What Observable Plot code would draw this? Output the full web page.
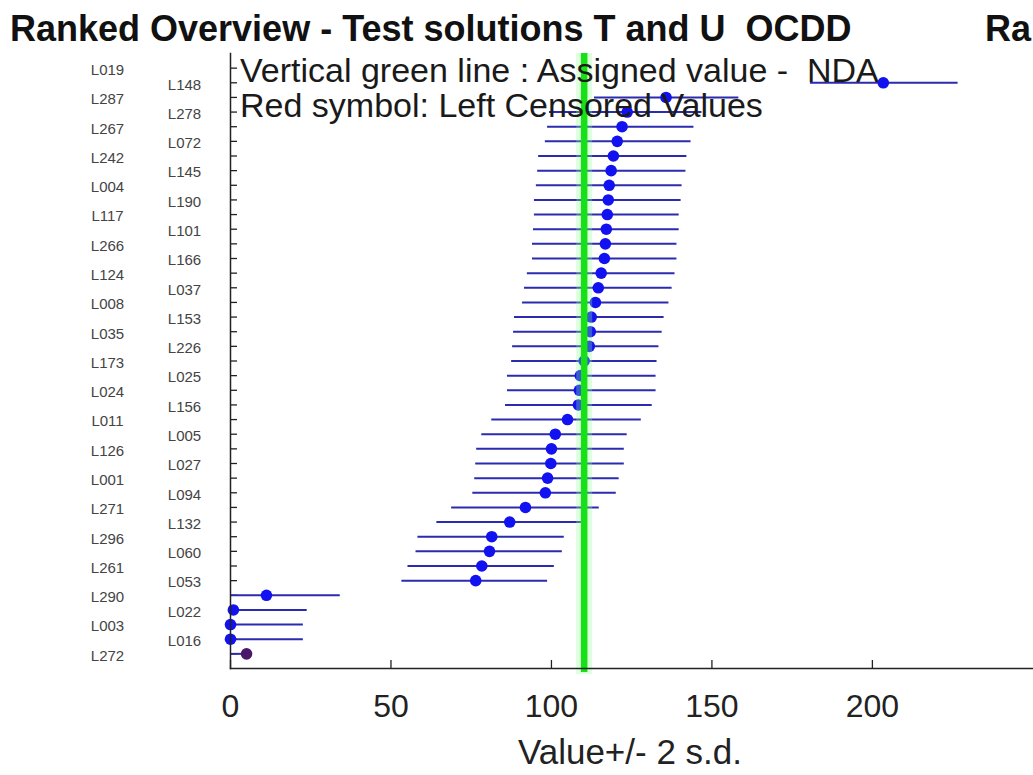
<!DOCTYPE html>
<html>
<head>
<meta charset="utf-8">
<script src="https://cdn.jsdelivr.net/npm/d3@7"></script>
<script src="https://cdn.jsdelivr.net/npm/@observablehq/plot@0.6"></script>
<style>
  html, body { margin: 0; padding: 0; background: #ffffff; }
  #wrap { position: relative; width: 1033px; height: 775px; overflow: hidden; background: #fff; }
  #wrap svg { position: absolute; left: 0; top: 0; overflow: hidden; }
  .ttl { position: absolute; top: 11px; margin: 0; font: bold 36px "Liberation Sans", Arial, sans-serif; line-height: 1; color: #111; white-space: pre; }
</style>
</head>
<body>
<div id="wrap">
  <div class="ttl" style="left:10px">Ranked Overview - Test solutions T and U  OCDD</div>
  <div class="ttl" style="left:985px">Ra</div>
</div>
<script>
// Labs, top to bottom (ranked)
const labs = ["L019","L148","L287","L278","L267","L072","L242","L145","L004","L190","L117","L101","L266","L166","L124","L037","L008","L153","L035","L226","L173","L025","L024","L156","L011","L005","L126","L027","L001","L094","L271","L132","L296","L060","L261","L053","L290","L022","L003","L016","L272"];
// Reported values (L019 falls outside the shown range)
const values = [null,203.4,135.7,123.6,122.0,120.5,119.3,118.6,118.0,117.7,117.4,117.1,116.8,116.5,115.5,114.6,113.7,112.4,112.1,111.8,110.2,109.0,108.7,108.4,105.0,101.2,100.0,99.8,98.8,98.1,91.9,87.0,81.4,80.7,78.3,76.4,11.2,0.9,0.0,0.0,5.0];
// Value - 2 s.d.
const lows = [null,180.7,113.4,99.4,98.8,98.1,96.0,95.7,95.3,94.7,94.7,94.4,94.1,94.1,92.5,91.6,91.0,88.5,88.2,87.9,87.6,86.3,86.3,85.7,81.4,78.3,76.7,76.4,76.1,75.5,68.9,64.3,58.4,57.8,55.3,53.4,0,0,0,0,0];
// Value + 2 s.d.
const highs = [null,226.7,158.4,146.9,144.4,143.5,142.2,141.9,140.7,140.4,139.8,139.8,139.1,139.1,138.5,137.6,136.6,135.1,134.5,133.5,132.9,132.6,132.6,131.4,128.0,123.6,122.7,122.7,121.1,120.2,114.9,109.3,104.0,103.4,100.9,98.8,34.2,23.9,22.7,22.7,4.0];
// Left censored results
const censoredLabs = ["L272"];
// Assigned value (NDA)
const assignedValue = [110.2];
// x-axis ticks
const xTicks = [0, 50, 100, 150, 200];
const xMax = 250.2;

const rows = labs.map((lab, i) => ({lab, i, value: values[i], lo: lows[i], hi: highs[i], censored: censoredLabs.includes(lab)}));
const withData = rows.filter(d => d.value != null);

const font = '"Liberation Sans", Arial, sans-serif';
const W = 1033, H = 775, ML = 230, MR = 0, MT = 53, MB = 107;
const frameW = W - ML - MR, frameH = H - MT - MB;

const chart = Plot.plot({
  width: W,
  height: H,
  marginLeft: ML,
  marginRight: MR,
  marginTop: MT,
  marginBottom: MB,
  style: {fontFamily: font, background: "transparent", overflow: "hidden"},
  x: {domain: [0, xMax], label: null, axis: null},
  y: {type: "point", domain: labs, padding: 1, round: false, label: null, axis: null},
  marks: [
    // inward ticks on the left axis
    Plot.tickY(labs, {y: d => d, insetRight: frameW - 7, stroke: "#222", strokeWidth: 1.3}),
    // inward ticks on the bottom axis
    Plot.tickX(xTicks, {x: d => d, insetTop: frameH - 8, stroke: "#222", strokeWidth: 1.3}),
    Plot.axisX(xTicks, {tickSize: 0, tickPadding: 26, fontSize: 32, fill: "#222", label: null}),
    // lab labels, alternating in two columns
    Plot.text(rows.filter(d => d.i % 2 === 0), {y: "lab", text: "lab", frameAnchor: "left", dx: -123, dy: 2, textAnchor: "middle", fontSize: 15, fill: "#444"}),
    Plot.text(rows.filter(d => d.i % 2 === 1), {y: "lab", text: "lab", frameAnchor: "left", dx: -46, dy: 2, textAnchor: "middle", fontSize: 15, fill: "#444"}),
    // error bars
    Plot.ruleY(withData, {y: "lab", x1: "lo", x2: "hi", stroke: "#2b2bb0", strokeWidth: 2}),
    // values
    Plot.dot(withData, {x: "value", y: "lab", r: 5.8, fill: d => d.censored ? "#4a1868" : "#1212f0", stroke: "none"}),
    // assigned value
    Plot.ruleX(assignedValue, {stroke: "#8fff8f", strokeOpacity: 0.3, strokeWidth: 16, insetBottom: -6}),
    Plot.ruleX(assignedValue, {stroke: "#16e016", strokeWidth: 6.5, insetBottom: -4}),
    // axis lines
    Plot.frame({anchor: "left", stroke: "#222", strokeWidth: 1.5}),
    Plot.frame({anchor: "bottom", stroke: "#222", strokeWidth: 1.5})
  ]
});

const svg = d3.select(chart);
const legend = [
  {t: "Vertical green line : Assigned value -  NDA", y: 82},
  {t: "Red symbol: Left Censored Values", y: 117}
];
legend.forEach(l => {
  svg.append("text")
    .attr("x", 240).attr("y", l.y)
    .attr("text-anchor", "start")
    .attr("font-family", font).attr("font-size", 34)
    .attr("fill", "#1a1a1a")
    .attr("xml:space", "preserve")
    .style("white-space", "pre")
    .text(l.t);
});
svg.append("text")
  .attr("x", 630).attr("y", 764)
  .attr("text-anchor", "middle")
  .attr("font-family", font).attr("font-size", 35)
  .attr("fill", "#222")
  .text("Value+/- 2 s.d.");

const wrap = document.getElementById("wrap");
wrap.insertBefore(chart, wrap.firstChild);
</script>
</body>
</html>
